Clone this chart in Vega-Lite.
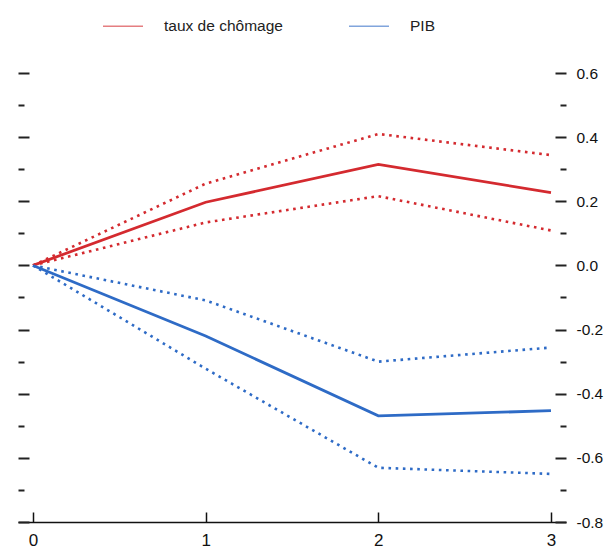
{
  "$schema": "https://vega.github.io/schema/vega-lite/v6.json",
  "autosize": {"type": "none"},
  "width": 548,
  "height": 449,
  "padding": {"left": 18, "top": 73, "right": 40, "bottom": 27},
  "background": "white",
  "config": {"view": {"stroke": null}, "font": "Liberation Sans"},
  "data": {"values": [
    {"x": 0, "value": 0, "series": "taux de chômage", "kind": "est"},
    {"x": 1, "value": 0.197, "series": "taux de chômage", "kind": "est"},
    {"x": 2, "value": 0.315, "series": "taux de chômage", "kind": "est"},
    {"x": 3, "value": 0.227, "series": "taux de chômage", "kind": "est"},
    {"x": 0, "value": 0, "series": "taux de chômage", "kind": "up"},
    {"x": 1, "value": 0.255, "series": "taux de chômage", "kind": "up"},
    {"x": 2, "value": 0.41, "series": "taux de chômage", "kind": "up"},
    {"x": 3, "value": 0.344, "series": "taux de chômage", "kind": "up"},
    {"x": 0, "value": 0, "series": "taux de chômage", "kind": "lo"},
    {"x": 1, "value": 0.134, "series": "taux de chômage", "kind": "lo"},
    {"x": 2, "value": 0.216, "series": "taux de chômage", "kind": "lo"},
    {"x": 3, "value": 0.109, "series": "taux de chômage", "kind": "lo"},
    {"x": 0, "value": 0, "series": "PIB", "kind": "est"},
    {"x": 1, "value": -0.22, "series": "PIB", "kind": "est"},
    {"x": 2, "value": -0.469, "series": "PIB", "kind": "est"},
    {"x": 3, "value": -0.453, "series": "PIB", "kind": "est"},
    {"x": 0, "value": 0, "series": "PIB", "kind": "up"},
    {"x": 1, "value": -0.109, "series": "PIB", "kind": "up"},
    {"x": 2, "value": -0.3, "series": "PIB", "kind": "up"},
    {"x": 3, "value": -0.256, "series": "PIB", "kind": "up"},
    {"x": 0, "value": 0, "series": "PIB", "kind": "lo"},
    {"x": 1, "value": -0.322, "series": "PIB", "kind": "lo"},
    {"x": 2, "value": -0.631, "series": "PIB", "kind": "lo"},
    {"x": 3, "value": -0.65, "series": "PIB", "kind": "lo"}
  ]},
  "encoding": {
    "x": {
      "field": "x", "type": "quantitative",
      "scale": {"domain": [-0.087, 3.087], "nice": false, "zero": false},
      "axis": {
        "orient": "bottom", "title": null, "grid": false,
        "values": [0, 1, 2, 3], "format": "d",
        "domain": true, "domainColor": "#111", "domainWidth": 1.5,
        "ticks": true, "tickSize": -10, "tickColor": "#111", "tickWidth": 1.5,
        "labelFontSize": 17, "labelColor": "#111", "labelPadding": 20, "labelFlush": false
      }
    }
  },
  "resolve": {"axis": {"y": "independent"}},
  "layer": [
    {
      "mark": {"type": "rule", "color": "#111", "strokeWidth": 1.5},
      "encoding": {
        "y": {"datum": 0, "type": "quantitative",
          "scale": {"domain": [-0.8, 0.6], "nice": false, "zero": false},
          "axis": {
            "orient": "left", "title": null, "grid": false, "domain": false, "labels": false,
            "values": [-0.8, -0.7, -0.6, -0.5, -0.4, -0.3, -0.2, -0.1, 0, 0.1, 0.2, 0.3, 0.4, 0.5, 0.6],
            "tickSize": -11, "tickColor": "#222", "tickWidth": 2,
            "tickDash": {"condition": {"test": "abs(round(datum.value*10)) % 2 == 1", "value": [6, 100]}, "value": [100, 0]}
          }
        }
      }
    },
    {
      "transform": [{"filter": "datum.kind != 'est'"}],
      "mark": {"type": "line", "strokeWidth": 2.6, "strokeDash": [2.6, 4.6]},
      "encoding": {
        "y": {"field": "value", "type": "quantitative",
          "axis": {
            "orient": "right", "title": null, "grid": false, "domain": false,
            "values": [-0.8, -0.7, -0.6, -0.5, -0.4, -0.3, -0.2, -0.1, 0, 0.1, 0.2, 0.3, 0.4, 0.5, 0.6],
            "labelExpr": "abs(round(datum.value*10)) % 2 == 0 ? (datum.value < -0.01 ? '-' : '') + format(abs(datum.value), '.1f') : ''",
            "labelFontSize": 15.5, "labelColor": "#111", "labelPadding": 21,
            "tickSize": -11, "tickColor": "#222", "tickWidth": 2,
            "tickDash": {"condition": {"test": "abs(round(datum.value*10)) % 2 == 1", "value": [6, 100]}, "value": [100, 0]}
          }
        },
        "color": {"field": "series", "type": "nominal",
          "scale": {"domain": ["taux de chômage", "PIB"], "range": ["#d42a2f", "#2e6bc6"]}},
        "detail": {"field": "kind"}
      }
    },
    {
      "transform": [{"filter": "datum.kind == 'est'"}],
      "mark": {"type": "line", "strokeWidth": 2.8},
      "encoding": {
        "y": {"field": "value", "type": "quantitative", "axis": null},
        "color": {"field": "series", "type": "nominal",
          "scale": {"domain": ["taux de chômage", "PIB"], "range": ["#d42a2f", "#2e6bc6"]},
          "legend": {
            "orient": "none", "legendX": 84, "legendY": -68, "direction": "horizontal", "title": null,
            "symbolType": "stroke", "symbolSize": 1600, "symbolStrokeWidth": 1.5, "symbolOpacity": 0.6,
            "symbolDash": [1, 0],
            "labelFontSize": 15.5, "labelColor": "#222", "labelOffset": 20, "columnPadding": 63
          }
        }
      }
    }
  ]
}
